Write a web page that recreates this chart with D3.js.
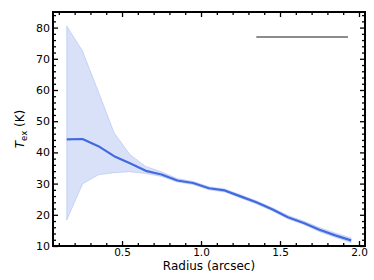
<!DOCTYPE html>
<html>
<head>
<meta charset="utf-8">
<script src="https://cdn.jsdelivr.net/npm/d3@7"></script>
<style>
	body { margin: 0; background: #fff; }
	svg text { font-family: "DejaVu Sans", Verdana, sans-serif; }
</style>
</head>
<body>
<script>
//	radius bins (arcsec)
var radius = [0.15, 0.25, 0.35, 0.45, 0.55, 0.65, 0.75, 0.85, 0.95, 1.05, 1.15, 1.25, 1.35, 1.45, 1.55, 1.65, 1.75, 1.85, 1.95];
//	excitation temperature, median and spread
var texMid   = [44.2, 44.3, 42.0, 38.8, 36.5, 34.1, 32.9, 31.0, 30.2, 28.5, 27.8, 25.9, 24.0, 21.8, 19.2, 17.4, 15.2, 13.4, 11.8];
var texHigh  = [80.5, 72.5, 59.5, 46.3, 39.3, 35.5, 33.8, 31.6, 30.7, 29.0, 28.3, 26.4, 24.5, 22.3, 19.8, 18.0, 15.9, 14.2, 12.6];
var texLow   = [18.3, 29.9, 32.8, 33.5, 33.8, 33.2, 32.3, 30.5, 29.7, 28.0, 27.3, 25.4, 23.5, 21.3, 18.7, 16.9, 14.6, 12.8, 11.1];
//	scale bar (x extent, y level)
var barX = [1.35, 1.93];
var barY = 77;

var xTicks = [0.5, 1.0, 1.5, 2.0];
var yTicks = [10, 20, 30, 40, 50, 60, 70, 80];

var W = 374, H = 280;
var margin = {left: 53, right: 9, top: 12, bottom: 34};

var svg = d3.select("body").append("svg").attr("width", W).attr("height", H);

var x = d3.scaleLinear().domain([0.063, 2.038]).range([margin.left, W - margin.right]);
var y = d3.scaleLinear().domain([10, 85]).range([H - margin.bottom, margin.top]);

var pts = radius.map(function(r, i) { return {r: r, mid: texMid[i], hi: texHigh[i], lo: texLow[i]}; });

//	uncertainty band
var area = d3.area().x(function(d) { return x(d.r); }).y0(function(d) { return y(d.lo); }).y1(function(d) { return y(d.hi); });
svg.append("path").datum(pts).attr("d", area)
	.attr("fill", "#4169e1").attr("fill-opacity", 0.2)
	.attr("stroke", "#4169e1").attr("stroke-opacity", 0.25).attr("stroke-width", 0.8);

//	median line
var line = d3.line().x(function(d) { return x(d.r); }).y(function(d) { return y(d.mid); });
svg.append("path").datum(pts).attr("d", line)
	.attr("fill", "none").attr("stroke", "#4169e1").attr("stroke-width", 2.2).attr("stroke-linejoin", "round");

//	scale bar
svg.append("line")
	.attr("x1", x(barX[0])).attr("x2", x(barX[1])).attr("y1", y(barY)).attr("y2", y(barY))
	.attr("stroke", "#8c8c8c").attr("stroke-width", 2);

//	axes, ticks pointing inward on all four sides
var xMinor = d3.range(0.1, 2.01, 0.1).filter(function(v) { return Math.abs(v * 2 - Math.round(v * 2)) > 1e-6; });
var yMinor = d3.range(12, 85, 2).filter(function(v) { return v % 10 != 0; });

function addAxis(axis, tx, ty, fs) {
	var g = svg.append("g").attr("transform", "translate(" + tx + "," + ty + ")").call(axis);
	g.select(".domain").remove();
	g.selectAll("line").attr("stroke", "#000").attr("stroke-width", 1.3);
	g.selectAll("text").attr("font-size", fs || 11).attr("fill", "#000");
	return g;
}

var bottomY = H - margin.bottom, topY = margin.top;
var leftX = margin.left, rightX = W - margin.right;

addAxis(d3.axisBottom(x).tickValues(xTicks).tickFormat(d3.format(".1f")).tickSize(-5).tickPadding(3), 0, bottomY, 10.5);
addAxis(d3.axisBottom(x).tickValues(xMinor).tickFormat("").tickSize(-3), 0, bottomY);
addAxis(d3.axisTop(x).tickValues(xTicks).tickFormat("").tickSize(-5), 0, topY);
addAxis(d3.axisTop(x).tickValues(xMinor).tickFormat("").tickSize(-3), 0, topY);
addAxis(d3.axisLeft(y).tickValues(yTicks).tickSize(-5).tickPadding(3), leftX, 0, 11);
addAxis(d3.axisLeft(y).tickValues(yMinor).tickFormat("").tickSize(-3), leftX, 0);
addAxis(d3.axisRight(y).tickValues(yTicks).tickFormat("").tickSize(-5), rightX, 0);
addAxis(d3.axisRight(y).tickValues(yMinor).tickFormat("").tickSize(-3), rightX, 0);

//	frame
svg.append("rect")
	.attr("x", leftX).attr("y", topY).attr("width", rightX - leftX).attr("height", bottomY - topY)
	.attr("fill", "none").attr("stroke", "#000").attr("stroke-width", 2);

//	axis labels
svg.append("text").attr("x", (leftX + rightX) / 2).attr("y", 270).attr("text-anchor", "middle")
	.attr("font-size", 12).text("Radius (arcsec)");

var yl = svg.append("text").attr("transform", "translate(24," + ((topY + bottomY) / 2) + ") rotate(-90)")
	.attr("text-anchor", "middle").attr("font-size", 12);
yl.append("tspan").attr("font-style", "italic").text("T");
yl.append("tspan").attr("font-size", 8.5).attr("dy", 3).text("ex");
yl.append("tspan").attr("dy", -3).text(" (K)");
</script>
</body>
</html>
